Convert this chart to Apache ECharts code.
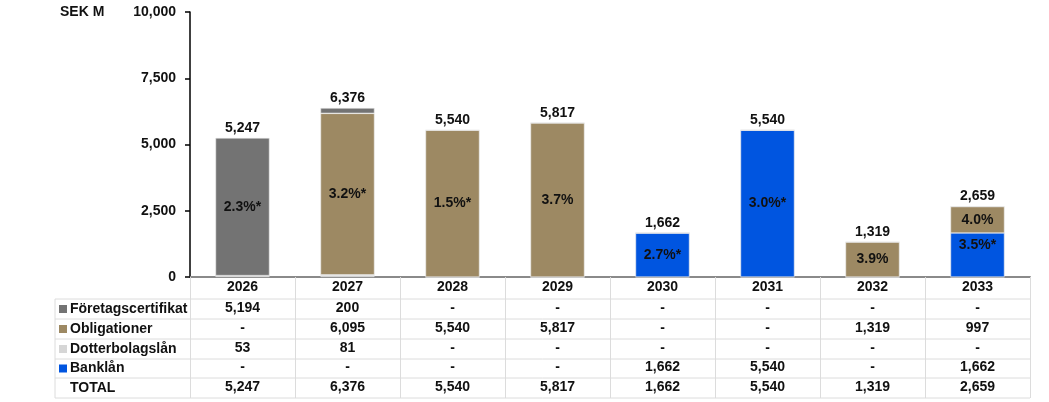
<!DOCTYPE html>
<html>
<head>
<meta charset="utf-8">
<script src="https://cdn.jsdelivr.net/npm/echarts@6/dist/echarts.min.js"></script>
<style>
  html, body { margin: 0; padding: 0; background: #fff; }
  #chart { width: 1049px; height: 402px; }
</style>
</head>
<body>
<div id="chart"></div>
<script>
// data
var years = ['2026', '2027', '2028', '2029', '2030', '2031', '2032', '2033'];
var foretag = [5194, 200, 0, 0, 0, 0, 0, 0];
var oblig = [0, 6095, 5540, 5817, 0, 0, 1319, 997];
var dotter = [53, 81, 0, 0, 0, 0, 0, 0];
var bank = [0, 0, 0, 0, 1662, 5540, 0, 1662];
var totals = [5247, 6376, 5540, 5817, 1662, 5540, 1319, 2659];
// rates shown inside the bars
var foretagRate = ['2.3%*', '', '', '', '', '', '', ''];
var obligRate = ['', '3.2%*', '1.5%*', '3.7%', '', '', '3.9%', '4.0%'];
var bankRate = ['', '', '', '', '2.7%*', '3.0%*', '', '3.5%*'];
var yTicks = [0, 2500, 5000, 7500, 10000];

var FONT = "'Liberation Sans', Arial, sans-serif";
var FS = 14;
var INK = '#111';
var LINE = '#dcdcdc';
var colors = {
    foretag: '#737373',
    oblig: '#9d8963',
    dotter: '#d6d6d6',
    bank: '#0055e0'
};

// layout
var gridL = 190, gridR = 1030, gridT = 12, gridB = 277;
var tableL = 55;
var rowLines = [299, 319, 339, 359, 378, 398];
var rowCenters = [309, 329, 349, 368.5, 388];

function fmt(v) {
    return v ? v.toLocaleString('en-US') : '-';
}

// bar data with inside labels
function barData(values, rates, insideTopIdx) {
    return values.map(function(v, i) {
        var item = { value: v };
        if (rates[i]) {
            item.label = {
                show: true,
                formatter: rates[i],
                position: insideTopIdx === i ? 'insideTop' : 'inside',
                distance: 5
            };
        }
        return item;
    });
}

var rows = [
    { name: 'Företagscertifikat', values: foretag, color: colors.foretag },
    { name: 'Obligationer', values: oblig, color: colors.oblig },
    { name: 'Dotterbolagslån', values: dotter, color: colors.dotter },
    { name: 'Banklån', values: bank, color: colors.bank },
    { name: 'TOTAL', values: totals, color: null }
];

var textStyleBase = { fontFamily: FONT, fontWeight: 'bold', fontSize: FS, color: INK };

// x axes: years header + one per table row
var xAxes = [{
    type: 'category',
    data: years,
    position: 'bottom',
    axisLine: { lineStyle: { color: '#8a8a8a', width: 2 } },
    axisTick: { show: true, length: rowLines[rowLines.length - 1] - gridB, interval: 0, lineStyle: { color: LINE, width: 1 } },
    axisLabel: Object.assign({ margin: 3, interval: 0 }, textStyleBase)
}];
rows.forEach(function(r, k) {
    xAxes.push({
        type: 'category',
        data: years,
        position: 'bottom',
        offset: 0,
        axisLine: { show: false },
        axisTick: { show: false },
        axisLabel: Object.assign({
            margin: rowCenters[k] - gridB - 8,
            interval: 0,
            formatter: function(val, idx) { return fmt(r.values[idx]); }
        }, textStyleBase)
    });
});

// table lines and row names
var graphics = [{
    type: 'text', left: 60, top: 5,
    style: { text: 'SEK M', font: 'bold ' + FS + 'px ' + FONT, fill: INK }
}];
rowLines.forEach(function(y) {
    graphics.push({
        type: 'line', silent: true,
        shape: { x1: tableL, y1: y, x2: gridR, y2: y },
        style: { stroke: LINE, lineWidth: 1 }
    });
});
graphics.push({
    type: 'line', silent: true,
    shape: { x1: tableL, y1: rowLines[0], x2: tableL, y2: rowLines[rowLines.length - 1] },
    style: { stroke: LINE, lineWidth: 1 }
});
rows.forEach(function(r, k) {
    if (r.color) {
        graphics.push({
            type: 'rect', silent: true,
            shape: { x: 59, y: rowCenters[k] - 4, width: 8, height: 8 },
            style: { fill: r.color }
        });
    }
    graphics.push({
        type: 'text', silent: true,
        x: 70, y: rowCenters[k],
        style: { text: r.name, font: 'bold ' + FS + 'px ' + FONT, fill: INK, verticalAlign: 'middle' }
    });
});

var barBase = {
    type: 'bar',
    stack: 'total',
    barWidth: 54,
    xAxisIndex: 0,
    label: Object.assign({ show: false }, textStyleBase),
    emphasis: { disabled: true }
};
var edge = { borderColor: 'rgba(230,230,230,0.9)', borderWidth: 0.6 };

var option = {
    animation: false,
    textStyle: { fontFamily: FONT },
    grid: { left: gridL, right: 1049 - gridR, top: gridT, bottom: 402 - gridB },
    xAxis: xAxes,
    yAxis: {
        type: 'value',
        min: yTicks[0],
        max: yTicks[yTicks.length - 1],
        interval: 2500,
        splitLine: { show: false },
        axisLine: { show: true, lineStyle: { color: '#000', width: 1.5 } },
        axisTick: { show: true, length: 5, lineStyle: { color: '#000', width: 1.5 } },
        axisLabel: Object.assign({
            margin: 14,
            formatter: function(v) { return v.toLocaleString('en-US'); }
        }, textStyleBase)
    },
    graphic: graphics,
    series: [
        Object.assign({}, barBase, { name: 'Dotterbolagslån', data: dotter, itemStyle: Object.assign({ color: colors.dotter }, edge) }),
        Object.assign({}, barBase, { name: 'Banklån', data: barData(bank, bankRate, 7), itemStyle: Object.assign({ color: colors.bank }, edge) }),
        Object.assign({}, barBase, { name: 'Obligationer', data: barData(oblig, obligRate), itemStyle: Object.assign({ color: colors.oblig }, edge) }),
        Object.assign({}, barBase, { name: 'Företagscertifikat', data: barData(foretag, foretagRate), itemStyle: Object.assign({ color: colors.foretag }, edge) }),
        {
            // totals on top of each bar
            name: 'TOTAL',
            type: 'bar',
            barWidth: 54,
            barGap: '-100%',
            z: 1,
            data: totals,
            itemStyle: { color: 'rgba(0,0,0,0)' },
            label: Object.assign({
                show: true,
                position: 'top',
                distance: 3,
                formatter: function(p) { return p.value.toLocaleString('en-US'); }
            }, textStyleBase),
            emphasis: { disabled: true }
        }
    ]
};

echarts.init(document.getElementById('chart')).setOption(option);
</script>
</body>
</html>
